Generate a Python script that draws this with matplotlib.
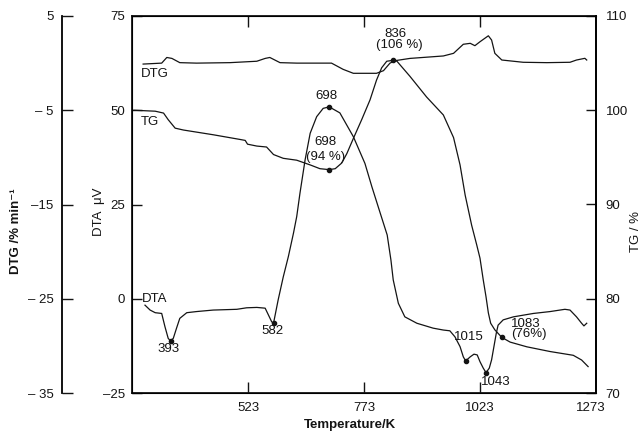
import matplotlib
matplotlib.use("Agg")
import matplotlib.pyplot as plt

plt.rcParams['font.family'] = ['Liberation Sans', 'DejaVu Sans']

# DTA trace (temperature / K, DTA / uV)
dta_t = [301, 312, 323, 337, 344, 351, 356, 362, 369, 376, 391, 412, 448, 499, 520, 542, 560, 567, 574, 578,
         588, 599, 610, 621, 628, 635, 646, 657, 671, 685, 698, 721, 750, 775, 790, 808, 823, 831, 836, 847,
         861, 887, 922, 944, 958, 969, 980, 987, 992, 1002, 1010, 1017, 1023, 1030, 1036, 1043, 1048, 1053, 1058, 1062,
         1073, 1095, 1138, 1174, 1206, 1217, 1231, 1242, 1247, 1253]
dta_v = [-1.7, -3.0, -3.7, -3.9, -7.4, -10.5, -11.2, -10.5, -7.8, -5.2, -3.7, -3.4, -3.0, -2.8, -2.4, -2.3, -2.5, -4.3, -6.1, -6.5,
         -0.3, 5.8, 11.2, 17.4, 21.8, 28.0, 36.8, 43.9, 48.3, 50.5, 50.9, 49.3, 43.0, 35.9, 29.7, 22.7, 16.9, 10.3, 5.0, -1.2,
         -4.8, -6.5, -7.8, -8.3, -8.5, -10.1, -12.7, -15.4, -16.5, -15.4, -14.7, -14.9, -16.7, -18.4, -19.6, -18.4, -16.2, -12.7, -9.2, -7.0,
         -5.6, -4.8, -3.9, -3.4, -2.8, -3.0, -4.8, -6.5, -7.2, -6.5]

# TG trace (temperature / K, mass / %)
tg_t = [277, 323, 341, 351, 366, 384, 448, 506, 517, 522, 542, 563, 578, 599, 628, 657, 678, 698, 711, 725,
        736, 750, 768, 786, 800, 811, 822, 836, 844, 872, 908, 944, 966, 980, 991, 998, 1005, 1016, 1023, 1030,
        1036, 1041, 1046, 1055, 1070, 1088, 1124, 1174, 1224, 1242, 1256]
tg_v = [100.0, 99.9, 99.7, 99.0, 98.1, 97.9, 97.4, 96.9, 96.8, 96.4, 96.2, 96.1, 95.3, 94.9, 94.7, 94.2, 93.8, 93.7, 93.8, 94.4,
        95.4, 97.0, 99.0, 101.1, 103.2, 104.5, 105.2, 105.3, 105.2, 103.6, 101.4, 99.5, 97.1, 94.2, 91.0, 89.4, 87.8, 85.7, 84.3, 82.0,
        80.2, 78.5, 77.4, 76.7, 75.9, 75.4, 74.9, 74.4, 74.0, 73.5, 72.8]

# DTG trace (temperature / K, % per min)
dtg_t = [297, 337, 348, 359, 376, 412, 484, 542, 560, 570, 578, 592, 628, 703, 728, 750, 800, 815, 829, 840,
         872, 944, 966, 987, 1002, 1012, 1023, 1041, 1048, 1055, 1070, 1116, 1167, 1217, 1231, 1249, 1253]
dtg_v = [-0.1, 0.0, 0.6, 0.5, 0.05, 0.0, 0.05, 0.2, 0.5, 0.6, 0.4, 0.05, 0.0, 0.0, -0.66, -1.08, -1.08, -0.8, 0.0, 0.26,
         0.5, 0.76, 1.04, 2.0, 2.1, 1.85, 2.27, 2.9, 2.45, 1.04, 0.33, 0.09, 0.05, 0.09, 0.33, 0.51, 0.33]

# marked points
dta_mark_t = [356, 578, 698, 992, 1036]
dta_mark_v = [-11.2, -6.5, 50.9, -16.5, -19.6]
tg_mark_t = [698, 836, 1070]
tg_mark_v = [93.7, 105.3, 75.9]

x_ticks = [523, 773, 1023]
x_labels = ['523', '773', '1023', '1273']
dta_ticks = [75, 50, 25, 0, -25]
dta_labels = ['75', '50', '25', '0', '\u201225']
tg_ticks = [110, 100, 90, 80, 70]
dtg_ticks = [5, -5, -15, -25, -35]
dtg_labels = ['5', '\u2012 5', '\u201215', '\u2012 25', '\u2012 35']

ink = '#141414'
fs = 9.5

fig = plt.figure(figsize=(6.42, 4.32), dpi=100)
ax = fig.add_axes([132/642, 1-393/432, 464/642, 377/432])
ax.set_xlim(273, 1273)
ax.set_ylim(-25, 75)

ax_tg = ax.twinx()
ax_tg.set_ylim(70, 110)
ax_dtg = ax.twinx()
ax_dtg.set_ylim(-35, 5)

ax.plot(dta_t, dta_v, color=ink, lw=0.9)
ax.plot(dta_mark_t, dta_mark_v, 'o', color=ink, ms=3)
ax_tg.plot(tg_t, tg_v, color=ink, lw=0.9)
ax_tg.plot(tg_mark_t, tg_mark_v, 'o', color=ink, ms=3)
ax_dtg.plot(dtg_t, dtg_v, color=ink, lw=0.9)

# main axes: DTA on the left, temperature along the bottom
for s in ax.spines.values():
    s.set_linewidth(1.3)
    s.set_color(ink)
ax.set_xticks(x_ticks)
ax.set_xticklabels([])
ax.tick_params(axis='x', direction='in', length=8, width=1, top=True, bottom=True, colors=ink)
# tick values are written under the axis, the last one sits under the right corner
for t, lab in zip(x_ticks + [1262], x_labels):
    ax.text(t, -27.3, lab, ha='center', va='top', fontsize=fs, color=ink)

ax.set_yticks(dta_ticks)
ax.set_yticklabels(dta_labels)
ax.tick_params(axis='y', direction='in', length=7, width=1, labelsize=fs, pad=5, colors=ink)

ax_tg.spines['right'].set_linewidth(1.3)
ax_tg.set_yticks(tg_ticks)
ax_tg.tick_params(axis='y', direction='in', length=7, width=1, labelsize=fs, pad=7, colors=ink)

# detached DTG axis on the far left
for k in ['top', 'bottom', 'right']:
    ax_dtg.spines[k].set_visible(False)
ax_dtg.spines['left'].set_visible(True)
ax_dtg.spines['left'].set_position(('axes', -0.151))
ax_dtg.spines['left'].set_linewidth(1.3)
ax_dtg.yaxis.set_ticks_position('left')
ax_dtg.set_yticks(dtg_ticks)
ax_dtg.set_yticklabels(dtg_labels)
ax_dtg.tick_params(axis='y', direction='in', length=8, width=1, labelsize=fs, pad=6, colors=ink)

# curve names and annotations
notes = [
    ('DTG', 292, 59.7, 'left'), ('TG', 292, 47.0, 'left'), ('DTA', 294, 0.0, 'left'),
    ('393', 352.7, -13.3, 'center'), ('582', 575.8, -8.6, 'center'),
    ('698', 693, 53.8, 'center'), ('698', 689, 41.5, 'center'), ('(94 %)', 691, 37.7, 'center'),
    ('836', 841.6, 70.3, 'center'), ('(106 %)', 849, 67.3, 'center'),
    ('1015', 998, -10.2, 'center'), ('1043', 1057.5, -22.0, 'center'),
    ('1083', 1122, -6.6, 'center'), ('(76%)', 1128.6, -9.4, 'center'),
]
for txt, x, y, ha in notes:
    ax.text(x, y, txt, ha=ha, va='center', fontsize=fs, color=ink)

fig.text(16/642, 1-231/432, 'DTG /% min\u207b\u00b9', rotation=90, ha='center', va='center',
         fontsize=fs, fontweight='bold', color=ink)
fig.text(99/642, 1-212/432, 'DTA  \u03bcV', rotation=90, ha='center', va='center',
         fontsize=fs, color=ink)
fig.text(636/642, 1-231/432, 'TG / %', rotation=90, ha='center', va='center',
         fontsize=fs, color=ink)
fig.text(350/642, 1-425/432, 'Temperature/K', ha='center', va='center',
         fontsize=fs, fontweight='bold', color=ink)

fig.savefig('out.png', dpi=100)
